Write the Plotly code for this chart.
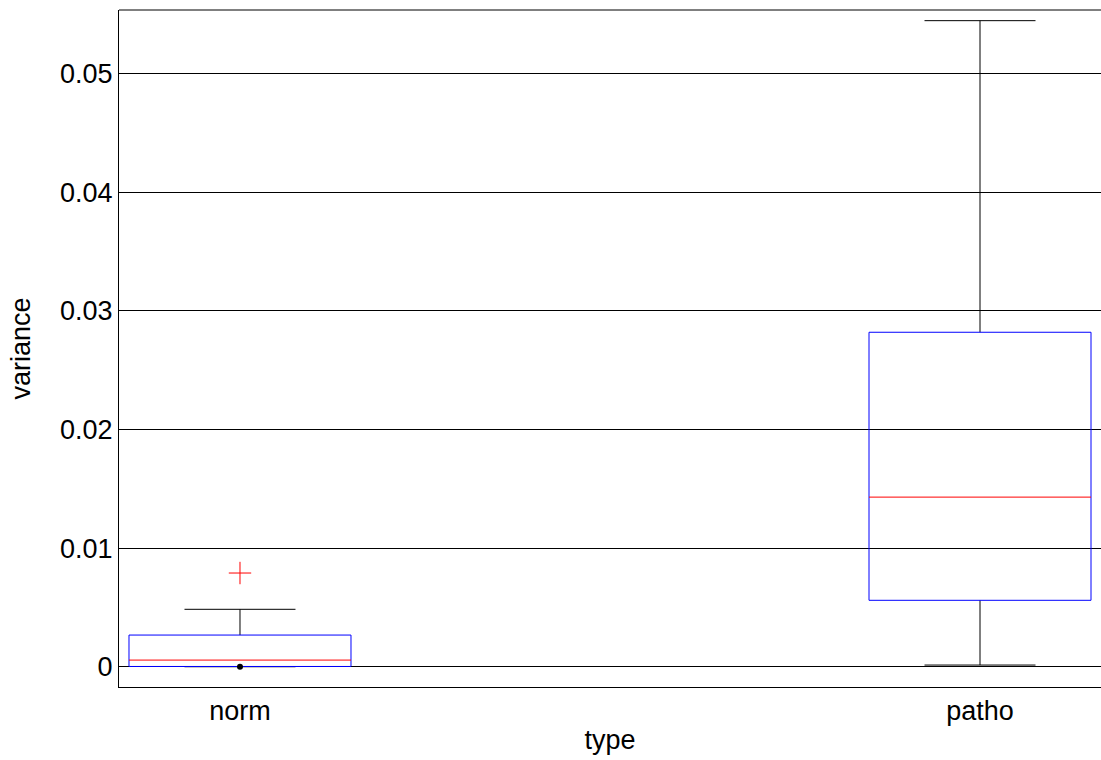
import plotly.graph_objects as go

# Box statistics per group
categories = ["norm", "patho"]
positions = [1, 2]
q1 = [0.00002, 0.0056]
median = [0.00056, 0.0143]
q3 = [0.00267, 0.0282]
lower_whisker = [0.0, 0.00014]
upper_whisker = [0.00484, 0.05447]
outlier_group = [1]
outlier_values = [0.0079]

y_ticks = [0, 0.01, 0.02, 0.03, 0.04, 0.05]
y_tick_labels = ["0", "0.01", "0.02", "0.03", "0.04", "0.05"]

box_half = 0.15
cap_half = 0.075

fig = go.Figure()

for i, x in enumerate(positions):
    # whiskers
    fig.add_trace(go.Scatter(
        x=[x, x, None, x, x, None,
           x - cap_half, x + cap_half, None, x - cap_half, x + cap_half],
        y=[q3[i], upper_whisker[i], None, lower_whisker[i], q1[i], None,
           upper_whisker[i], upper_whisker[i], None, lower_whisker[i], lower_whisker[i]],
        mode="lines", line=dict(color="black", width=1), hoverinfo="skip"))
    # box
    fig.add_trace(go.Scatter(
        x=[x - box_half, x + box_half, x + box_half, x - box_half, x - box_half],
        y=[q1[i], q1[i], q3[i], q3[i], q1[i]],
        mode="lines", line=dict(color="#0000FF", width=1), hoverinfo="skip"))
    # median
    fig.add_trace(go.Scatter(
        x=[x - box_half, x + box_half], y=[median[i], median[i]],
        mode="lines", line=dict(color="#FF0000", width=1), hoverinfo="skip"))

# collapsed lower whisker of the first group
fig.add_trace(go.Scatter(
    x=[positions[0]], y=[lower_whisker[0]], mode="markers",
    marker=dict(symbol="circle", size=6, color="black"), hoverinfo="skip"))

# outliers
fig.add_trace(go.Scatter(
    x=outlier_group, y=outlier_values, mode="markers",
    marker=dict(symbol="cross-thin-open", size=16, color="#FF0000",
                line=dict(color="#FF0000", width=1)),
    hoverinfo="skip"))

font = dict(family="Liberation Sans, Arial, sans-serif", size=27, color="black")

fig.update_layout(
    width=1101, height=760,
    margin=dict(l=119, r=0, t=10, b=73),
    paper_bgcolor="white", plot_bgcolor="white",
    showlegend=False,
    font=font,
    xaxis=dict(
        range=[0.8365, 2.1635], tickmode="array", tickvals=positions,
        ticktext=categories, showgrid=False, zeroline=False,
        showline=True, linecolor="black", linewidth=1, ticks="",
        tickfont=font,
        title=dict(text="type", font=font, standoff=4),
    ),
    yaxis=dict(
        range=[-0.00171, 0.05537], tickmode="array", tickvals=y_ticks,
        ticktext=y_tick_labels, showgrid=True, gridcolor="black", gridwidth=1,
        zeroline=False, showline=True, linecolor="black", linewidth=1, ticks="",
        tickfont=font,
        title=dict(text="variance", font=font, standoff=21),
    ),
    shapes=[dict(type="line", xref="paper", yref="paper", x0=0, x1=1, y0=1, y1=1,
                 line=dict(color="black", width=1))],
)

fig.write_html("out.html")
